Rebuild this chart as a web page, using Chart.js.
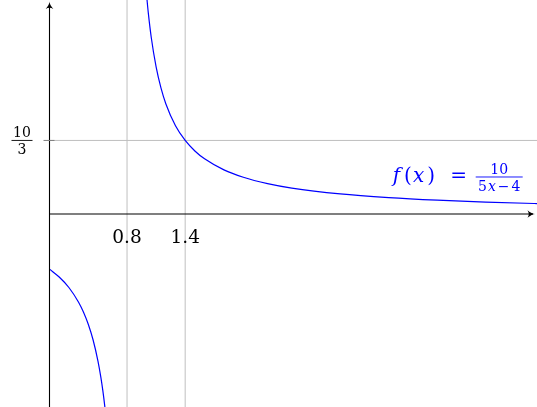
<!DOCTYPE html>
<html>
<head>
<meta charset="utf-8">
<script src="https://cdn.jsdelivr.net/npm/chart.js@4.4.1/dist/chart.umd.min.js"></script>
<style>
  html, body { margin: 0; padding: 0; background: #fff; }
  #wrap { width: 537px; height: 407px; position: relative; }
</style>
</head>
<body>
<div id="wrap"><canvas id="plot"></canvas></div>
<script>
// values, f(x) = 10/(5x-4)
const leftX  = [0, 0.1, 0.2, 0.3, 0.35, 0.4, 0.45, 0.5, 0.53, 0.55, 0.57, 0.59];
const leftY  = [-2.5, -2.857, -3.333, -4, -4.444, -5, -5.714, -6.667, -7.407, -8, -8.696, -9.524];
const rightX = [1.0, 1.02, 1.05, 1.1, 1.15, 1.2, 1.3, 1.4, 1.5, 1.6, 1.8, 2.0, 2.25, 2.5, 3.0, 3.5, 4.0, 4.5, 5.0, 5.05];
const rightY = [10, 9.091, 8, 6.667, 5.714, 5, 4, 3.333, 2.857, 2.5, 2, 1.667, 1.379, 1.176, 0.909, 0.741, 0.625, 0.541, 0.476, 0.471];

const xTicks = [0.8, 1.4];
const xTickLabels = ['0.8', '1.4'];
const yTicks = [10 / 3];
const yTickNum = ['10'];
const yTickDen = ['3'];

const serif = '"DejaVu Serif", "Liberation Serif", serif';
const blue = '#0000ff';

const toPoints = (xs, ys) => xs.map((v, i) => ({ x: v, y: ys[i] }));

function line(ctx, x1, y1, x2, y2) {
    ctx.beginPath();
    ctx.moveTo(x1, y1);
    ctx.lineTo(x2, y2);
    ctx.stroke();
}

// latex style arrow tip, pointing along (dx, dy)
function arrowTip(ctx, tx, ty, dx, dy) {
    const len = 7.5, half = 3.8;
    const nx = -dy, ny = dx;
    const bx = tx - dx * len, by = ty - dy * len;
    ctx.beginPath();
    ctx.moveTo(bx + nx * half, by + ny * half);
    ctx.quadraticCurveTo(tx - dx * 3, ty - dy * 3, tx, ty);
    ctx.quadraticCurveTo(tx - dx * 3, ty - dy * 3, bx - nx * half, by - ny * half);
    ctx.quadraticCurveTo(tx - dx * 5, ty - dy * 5, bx + nx * half, by + ny * half);
    ctx.fill();
}

// draws runs of [fontStyle, text, gapAfter] from left to right, returns end x
function drawRuns(ctx, runs, size, x, yBase) {
    runs.forEach(([style, s, gap]) => {
        ctx.font = style + size + 'px ' + serif;
        ctx.fillText(s, x, yBase);
        x += ctx.measureText(s).width + (gap || 0);
    });
    return x;
}

function runsWidth(ctx, runs, size) {
    let w = 0;
    runs.forEach(([style, s, gap]) => {
        ctx.font = style + size + 'px ' + serif;
        w += ctx.measureText(s).width + (gap || 0);
    });
    return w;
}

const axesPlugin = {
    id: 'axes',
    beforeDatasetsDraw(chart) {
        const { ctx, chartArea, scales: { x, y } } = chart;
        ctx.save();
        ctx.strokeStyle = '#bfbfbf';
        ctx.lineWidth = 1;
        xTicks.forEach(v => {
            const px = x.getPixelForValue(v);
            line(ctx, px, 0, px, chart.height);
        });
        yTicks.forEach(v => {
            const py = y.getPixelForValue(v);
            line(ctx, chartArea.left, py, chart.width, py);
        });
        ctx.restore();
    },
    afterDatasetsDraw(chart) {
        const { ctx, scales: { x, y } } = chart;
        const x0 = x.getPixelForValue(0);
        const y0 = y.getPixelForValue(0);
        ctx.save();

        // axes
        ctx.strokeStyle = '#000';
        ctx.fillStyle = '#000';
        ctx.lineWidth = 1.1;
        line(ctx, x0, chart.height, x0, 4);
        arrowTip(ctx, x0, 1.5, 0, -1);
        line(ctx, x0, y0, chart.width - 4, y0);
        arrowTip(ctx, chart.width - 2, y0, 1, 0);

        // y tick marks
        ctx.strokeStyle = '#7f7f7f';
        ctx.lineWidth = 1;
        yTicks.forEach(v => {
            const py = y.getPixelForValue(v);
            line(ctx, x0 - 6, py, x0 + 5, py);
        });

        // x tick labels
        ctx.fillStyle = '#000';
        ctx.font = '18.5px ' + serif;
        ctx.textAlign = 'center';
        ctx.textBaseline = 'alphabetic';
        xTicks.forEach((v, i) => {
            ctx.fillText(xTickLabels[i], x.getPixelForValue(v), y0 + 29.5);
        });

        // y tick labels as fractions
        ctx.font = '14px ' + serif;
        yTicks.forEach((v, i) => {
            const py = y.getPixelForValue(v);
            const cx = x0 - 27.5;
            ctx.fillText(yTickNum[i], cx, py - 3.5);
            ctx.fillText(yTickDen[i], cx, py + 14);
            ctx.lineWidth = 0.9;
            ctx.strokeStyle = '#000';
            line(ctx, cx - 10.5, py, cx + 10.5, py);
        });

        // function label
        ctx.fillStyle = blue;
        ctx.strokeStyle = blue;
        ctx.textAlign = 'left';
        const left = x.getPixelForValue(3.541);
        const base = y.getPixelForValue(1.45);
        drawRuns(ctx, [['italic ', 'f', 4], ['', '(', 1], ['italic ', 'x', 3], ['', ')']], 20, left, base);
        ctx.font = '20px ' + serif;
        ctx.fillText('=', left + 57.5, base);
        const barL = left + 83, barW = 47;
        const barY = base - 5;
        ctx.lineWidth = 0.9;
        line(ctx, barL, barY, barL + barW, barY);
        ctx.textAlign = 'center';
        ctx.font = '14px ' + serif;
        ctx.fillText('10', barL + barW / 2, barY - 3);
        ctx.textAlign = 'left';
        const den = [['', '5', 1], ['italic ', 'x', 2], ['', '\u2212', 2], ['', '4']];
        const denW = runsWidth(ctx, den, 14);
        drawRuns(ctx, den, 14, barL + (barW - denW) / 2, barY + 14);

        ctx.restore();
    }
};

const curveStyle = {
    showLine: true,
    borderColor: blue,
    borderWidth: 1.2,
    pointRadius: 0,
    cubicInterpolationMode: 'monotone',
    fill: false
};

new Chart(document.getElementById('plot'), {
    type: 'scatter',
    data: {
        datasets: [
            Object.assign({ label: 'left', data: toPoints(leftX, leftY) }, curveStyle),
            Object.assign({ label: 'right', data: toPoints(rightX, rightY) }, curveStyle)
        ]
    },
    options: {
        responsive: true,
        maintainAspectRatio: false,
        animation: false,
        layout: { padding: { left: 49.5, right: 0, top: 0, bottom: 0 } },
        plugins: { legend: { display: false }, tooltip: { enabled: false } },
        scales: {
            x: { type: 'linear', min: 0, max: 5.03, display: false },
            y: { type: 'linear', min: -8.75, max: 9.7, display: false }
        }
    },
    plugins: [axesPlugin]
});
</script>
</body>
</html>
